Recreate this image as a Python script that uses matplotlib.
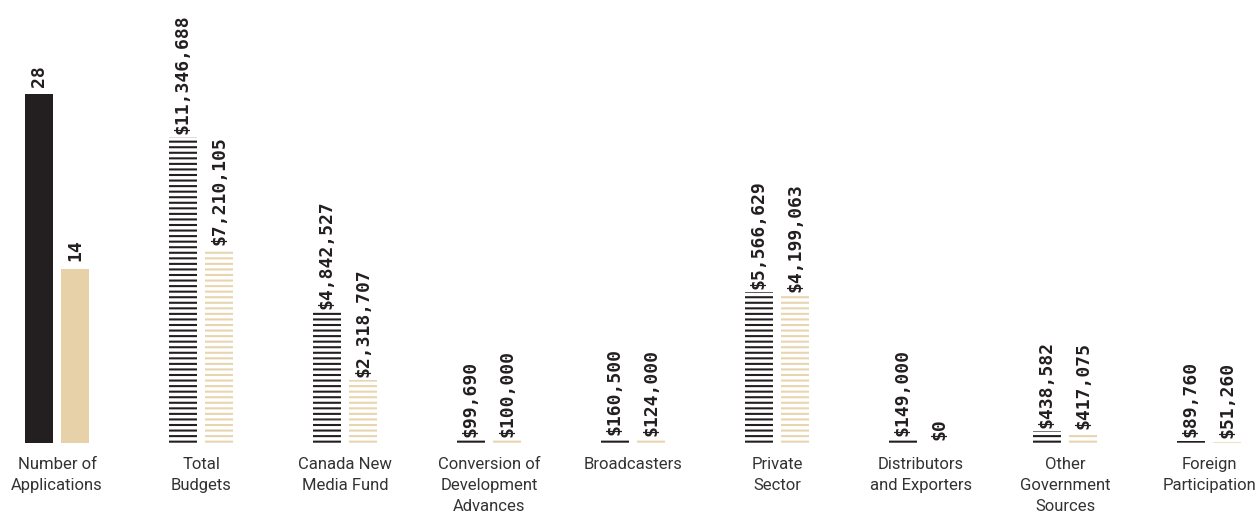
import matplotlib.pyplot as plt
import numpy as np

plt.rcParams["hatch.linewidth"] = 1.5

# data
categories = ["Number of\nApplications", "Total\nBudgets", "Canada New\nMedia Fund",
              "Conversion of\nDevelopment\nAdvances", "Broadcasters", "Private\nSector",
              "Distributors\nand Exporters", "Other\nGovernment\nSources", "Foreign\nParticipation"]
app_counts = [28, 14]
dark_dollars = [11346688, 4842527, 99690, 160500, 5566629, 149000, 438582, 89760]
beige_dollars = [7210105, 2318707, 100000, 124000, 4199063, 0, 417075, 51260]
# bar heights as drawn in the original (private sector beige bar is drawn taller than its label)
dark_heights = [11346688, 4842527, 99690, 160500, 5600000, 149000, 438582, 89760]
beige_heights = [7210105, 2318707, 100000, 124000, 5480000, 0, 417075, 51260]

dark = "#231f20"
beige = "#e6d1a9"
beige_line = "#e8d5b0"
width = 0.194
off = 0.128
num_font = dict(family="DejaVu Sans Mono", weight="bold", fontsize=13, color=dark)

fig = plt.figure(figsize=(12.57, 5.16), dpi=100)
ax = fig.add_axes([0, 73 / 516, 1, 443 / 516])
ax2 = ax.twinx()

x = np.arange(len(categories))
xd = x[1:]

# left group: counts on their own scale
ax2.bar([x[0] - off, x[0] + off], app_counts, width, color=[dark, beige], linewidth=0)
for xi, v in zip([x[0] - off, x[0] + off], app_counts):
    ax2.text(xi, v + 0.6, str(v), rotation=90, ha="center", va="bottom", **num_font)

# dollar groups, striped
ax.bar(xd - off, dark_heights, width, facecolor="white", edgecolor=dark, hatch="---", linewidth=0)
ax.bar(xd + off, beige_heights, width, facecolor="white", edgecolor=beige_line, hatch="---", linewidth=0)
for xi, h, v in zip(xd - off, dark_heights, dark_dollars):
    ax.text(xi, h + 120000, "${:,}".format(v), rotation=90, ha="center", va="bottom", **num_font)
for xi, h, v in zip(xd + off, beige_heights, beige_dollars):
    ax.text(xi, h + 120000, "${:,}".format(v), rotation=90, ha="center", va="bottom", **num_font)

ax.set_xlim(-57 / 144, 1200 / 144)
ax.set_ylim(0, 443 / 26.97 * 1e6)
ax2.set_ylim(0, 443 / 12.46)

for a in (ax, ax2):
    a.set_yticks([])
    for s in a.spines.values():
        s.set_visible(False)
ax.set_xticks(x)
ax.set_xticklabels(categories, family=["Roboto", "DejaVu Sans"],
                   fontsize=12, color="#333333", linespacing=1.52)
ax.tick_params(axis="x", length=0, pad=10)

fig.savefig("out.png", dpi=100)
